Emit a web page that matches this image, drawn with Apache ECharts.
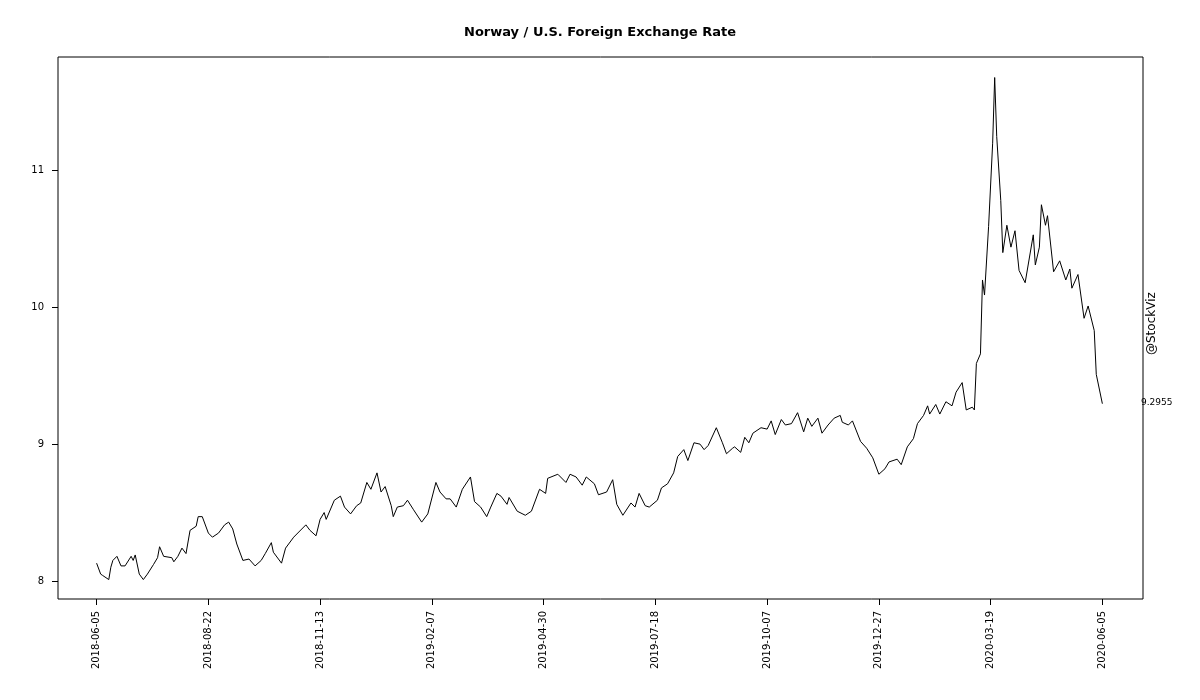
<!DOCTYPE html>
<html><head><meta charset="utf-8">
<script src="https://cdn.jsdelivr.net/npm/echarts@6/dist/echarts.min.js"></script>
<style>html,body{margin:0;padding:0;background:#fff}#c{width:1200px;height:700px}</style>
</head><body><div id="c"></div>
<script>
const dayIdx = [0,2,3,6,7,8,10,12,14,17,18,19,21,23,25,28,30,31,33,37,38,40,42,44,46,49,50,52,55,57,60,63,65,67,69,72,75,78,81,83,86,87,91,93,97,103,105,108,110,112,113,117,120,122,125,128,130,133,135,138,140,142,145,146,148,151,153,156,160,163,167,169,172,174,177,180,184,186,189,192,194,197,199,202,203,207,211,214,218,221,222,227,231,233,236,239,241,245,247,251,254,256,259,263,265,267,270,272,276,278,281,284,286,289,291,294,297,299,301,305,308,310,313,314,317,319,321,323,327,330,332,334,337,339,342,345,348,350,352,355,357,360,363,366,367,370,372,376,379,382,385,388,390,394,396,399,402,404,407,409,410,413,415,418,421,423,426,428,431,432,433,435,436,437,439,441,442,443,445,446,448,450,452,454,457,461,462,464,465,467,468,471,474,477,479,480,483,486,488,491,492,495];
const rate = [8.13,8.05,8.04,8.01,8.10,8.15,8.18,8.11,8.11,8.18,8.15,8.19,8.05,8.01,8.05,8.12,8.17,8.25,8.18,8.17,8.14,8.18,8.24,8.20,8.37,8.40,8.47,8.47,8.35,8.32,8.35,8.41,8.43,8.38,8.27,8.15,8.16,8.11,8.15,8.20,8.28,8.21,8.13,8.24,8.32,8.41,8.37,8.33,8.45,8.50,8.45,8.59,8.62,8.54,8.49,8.55,8.57,8.72,8.67,8.79,8.65,8.69,8.55,8.47,8.54,8.55,8.59,8.52,8.43,8.49,8.72,8.65,8.60,8.60,8.54,8.67,8.76,8.58,8.54,8.47,8.54,8.64,8.62,8.56,8.61,8.51,8.48,8.51,8.67,8.64,8.75,8.78,8.72,8.78,8.76,8.70,8.76,8.71,8.63,8.65,8.74,8.56,8.48,8.57,8.54,8.64,8.55,8.54,8.59,8.68,8.71,8.79,8.91,8.96,8.88,9.01,9.00,8.96,8.99,9.12,9.01,8.93,8.97,8.98,8.94,9.05,9.01,9.08,9.12,9.11,9.17,9.07,9.18,9.14,9.15,9.23,9.09,9.19,9.13,9.19,9.08,9.14,9.19,9.21,9.16,9.14,9.17,9.02,8.97,8.90,8.78,8.82,8.87,8.89,8.85,8.98,9.04,9.15,9.21,9.28,9.22,9.29,9.22,9.31,9.28,9.38,9.45,9.25,9.27,9.25,9.59,9.66,10.20,10.09,10.59,11.20,11.68,11.25,10.78,10.40,10.60,10.44,10.56,10.27,10.18,10.53,10.31,10.44,10.75,10.60,10.67,10.26,10.34,10.20,10.28,10.14,10.24,9.92,10.01,9.83,9.51,9.2955];
const tickIdx = [0,55,110,165,220,275,330,385,440,495];
const tickLabels = ['2018-06-05','2018-08-22','2018-11-13','2019-02-07','2019-04-30','2019-07-18','2019-10-07','2019-12-27','2020-03-19','2020-06-05'];
const yTicks = [8,9,10,11];
const title = 'Norway / U.S. Foreign Exchange Rate';
const credit = '@StockViz';

const FONT = 'DejaVu Sans';
const chart = echarts.init(document.getElementById('c'));
chart.setOption({
  animation:false,
  title:{text:title,left:'center',top:21,textStyle:{fontFamily:FONT,fontSize:13,fontWeight:'bold',color:'#000'}},
  grid:{left:58,right:57,top:57,bottom:101,show:true,borderColor:'#000',borderWidth:1,backgroundColor:'transparent'},
  xAxis:{type:'value',min:-19,max:515,
    axisLine:{show:false,onZero:false},splitLine:{show:false},
    axisTick:{show:true,length:6,lineStyle:{color:'#000'},customValues:tickIdx},
    axisLabel:{rotate:90,fontFamily:FONT,fontSize:10,color:'#000',margin:12,customValues:tickIdx,
      formatter:v=>tickLabels[tickIdx.indexOf(v)]}},
  yAxis:{type:'value',min:7.868,max:11.83,
    axisLine:{show:false,onZero:false},splitLine:{show:false},
    axisTick:{show:true,length:6,lineStyle:{color:'#000'},customValues:yTicks},
    axisLabel:{fontFamily:FONT,fontSize:10,color:'#000',margin:14,customValues:yTicks}},
  series:[{type:'line',data:dayIdx.map((d,i)=>[d,rate[i]]),showSymbol:false,lineStyle:{color:'#000',width:1}}]
});
const last = chart.convertToPixel({gridIndex:0},[dayIdx[dayIdx.length-1],rate[rate.length-1]]);
chart.setOption({graphic:[
  {type:'text',left:1141,top:last[1]-6,style:{text:String(rate[rate.length-1]),font:'9px '+FONT,fill:'#000'}},
  {type:'text',x:1146,y:355,rotation:Math.PI/2,style:{text:credit,font:'12px '+FONT,fill:'#000'}}
]});
</script></body></html>
